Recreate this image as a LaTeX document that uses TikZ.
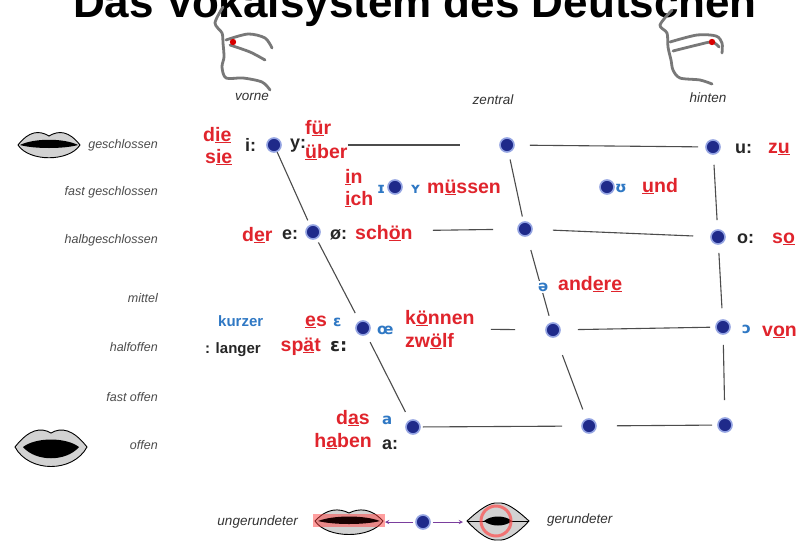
\documentclass[tikz,border=0pt]{standalone}
\usepackage{fontspec}
\setmainfont{Liberation Sans}
\newfontfamily\ipafont{DejaVu Sans}
\definecolor{cDot}{HTML}{1F2A8A}
\definecolor{cHalo}{HTML}{93A3E2}
\definecolor{cWord}{HTML}{E0242C}
\definecolor{cIpa}{HTML}{2F78C4}
\definecolor{cLine}{gray}{0.3}
\definecolor{cSide}{gray}{0.3}
\definecolor{cHead}{gray}{0.47}
\definecolor{cArrow}{HTML}{7A3E9D}
\tikzset{>=stealth}
\tikzset{
	vdot/.style={circle, fill=cDot, draw=cHalo, line width=1.6pt, minimum size=14pt, inner sep=0pt},
	word/.style={text=cWord, font=\bfseries\fontsize{19.5}{20}\selectfont, inner sep=0pt, anchor=base west},
	sound/.style={text=black!85, font=\bfseries\fontsize{18}{20}\selectfont, inner sep=0pt, anchor=base west},
	ipa/.style={text=cIpa, font=\ipafont\bfseries\fontsize{15}{18}\selectfont, inner sep=0pt, anchor=base west},
	side/.style={text=cSide, font=\itshape\fontsize{12.5}{14}\selectfont, inner sep=0pt, anchor=east},
	place/.style={text=black!80, font=\itshape\fontsize{13.5}{15}\selectfont, inner sep=0pt},
	gline/.style={draw=cLine, line width=1.1pt},
	head/.style={draw=cHead, line width=2.8pt, line cap=round, line join=round},
	lips/.style={draw=black, fill=gray!35, line width=0.9pt},
}

\begin{document}
\begin{tikzpicture}[x=1pt, y=-1pt]
		\clip (0,0) rectangle (808,544);
		\fill[white] (0,0) rectangle (808,544);
		
		%title
		\node[font=\bfseries\fontsize{44}{48}\selectfont, anchor=base] (title) at (415,17) {Das Vokalsystem des Deutschen};
		
		%head front
		\draw[head] plot[smooth] coordinates {(223,7) (215,23) (222,33) (223,43) (224,57) (222,67) (226,78) (243,78) (262,82) (270,90)};
		\draw[head] plot[smooth] coordinates {(226,40) (248,34) (265,38) (272,48)};
		\draw[head] plot[smooth] coordinates {(230,45) (250,52) (265,60)};
		\fill[red!85!black] (233,42) circle (3.2pt);
		%head back
		\draw[head] plot[smooth] coordinates {(672,10) (660,25) (667,33) (668,47) (671,60) (673,70) (680,78) (700,80) (712,84)};
		\draw[head] plot[smooth] coordinates {(670,42) (697,35) (716,36) (722,43) (722,53)};
		\draw[head] plot[smooth] coordinates {(673,51) (697,45) (712,42) (719,47)};
		\fill[red!85!black] (712,42) circle (3.2pt);
		
		\node[place] (vorne) at (252,97) {vorne};
		\node[place] (zentral) at (493,100) {zentral};
		\node[place] (hinten) at (708,98) {hinten};
		
		%mouth opening
		\foreach \y/\t in {145/geschlossen, 192/fast geschlossen, 240/halbgeschlossen, 298/mittel, 347/halfoffen, 397/fast offen, 445/offen}
		{
			\node[side] at (158,\y) {\t};
		}
		%closed lips
		\begin{scope}[shift={(49,145)}]
			\draw[lips] (-31,0) .. controls (-20,-14) and (-10,-15) .. (0,-9) .. controls (10,-15) and (20,-14) .. (31,0) .. controls (20,17) and (-20,17) .. (-31,0) -- cycle;
			\fill[black] (-29,0) .. controls (-15,-7) and (15,-7) .. (29,0) .. controls (15,4) and (-15,4) .. (-29,0);
		\end{scope}
		%open lips
		\begin{scope}[shift={(51,447)}]
			\draw[lips] (-36,0) .. controls (-22,-18) and (-10,-20) .. (0,-14) .. controls (10,-20) and (22,-18) .. (36,0) .. controls (22,26) and (-22,26) .. (-36,0) -- cycle;
			\fill[black] (-28,0) .. controls (-15,-10) and (15,-10) .. (28,0) .. controls (15,15) and (-15,15) .. (-28,0);
		\end{scope}
		
		%vowels
		\node[vdot] (iDot) at (274,145) {};
		\node[vdot] (cTop) at (507,145) {};
		\node[vdot] (uDot) at (713,147) {};
		\node[vdot] (IDot) at (395,187) {};
		\node[vdot] (UDot) at (607,187) {};
		\node[vdot] (eDot) at (313,232) {};
		\node[vdot] (cMid) at (525,229) {};
		\node[vdot] (oDot) at (718,237) {};
		\node[vdot] (oeDot) at (363,328) {};
		\node[vdot] (cLow) at (553,330) {};
		\node[vdot] (OpenO) at (723,327) {};
		\node[vdot] (aDot) at (413,427) {};
		\node[vdot] (cBot) at (589,426) {};
		\node[vdot] (rBot) at (725,425) {};
		
		%front
		\draw[gline, shorten >=5pt] (iDot) -- (eDot);
		\draw[gline, shorten <=4pt, shorten >=9pt] (eDot) -- (oeDot);
		\draw[gline, shorten <=8pt, shorten >=9pt] (oeDot) -- (aDot);
		%central
		\draw[gline, shorten <=7pt, shorten >=5pt] (cTop) -- (cMid);
		\draw[gline, shorten <=14pt, shorten >=7pt] (cMid) -- (cLow);
		\draw[gline, shorten <=19pt, shorten >=10pt] (cLow) -- (cBot);
		%back
		\draw[gline, shorten <=10pt, shorten >=9pt] (uDot) -- (oDot);
		\draw[gline, shorten <=8pt, shorten >=11pt] (oDot) -- (OpenO);
		\draw[gline, shorten <=10pt, shorten >=17pt] (OpenO) -- (rBot);
		%rows
		\draw[gline, shorten <=66pt, shorten >=39pt] (iDot) -- (cTop);
		\draw[gline, shorten <=15pt, shorten >=7pt] (cTop) -- (uDot);
		\draw[gline, shorten <=112pt, shorten >=24pt] (eDot) -- (cMid);
		\draw[gline, shorten <=20pt, shorten >=17pt] (cMid) -- (oDot);
		\draw[gline, shorten <=120pt, shorten >=30pt] (oeDot) -- (cLow);
		\draw[gline, shorten <=17pt, shorten >=5pt] (cLow) -- (OpenO);
		\draw[gline, shorten <=2pt, shorten >=19pt] (aDot) -- (cBot);
		\draw[gline, shorten <=20pt, shorten >=5pt] (cBot) -- (rBot);
		
		%close
		\node[word] (die) at (203,141) {d\underline{ie}};
		\node[word] (sie) at (205,163) {s\underline{ie}};
		\node[sound] (ii) at (245,151) {i:};
		\node[sound] (yy) at (290,148) {y:};
		\node[word] (fuer) at (305,134) {f\underline{ü}r};
		\node[word] (ueber) at (305,158) {\underline{ü}ber};
		\node[sound] (uu) at (735,153) {u:};
		\node[word] (zu) at (768,153) {z\underline{u}};
		%near close
		\node[word] (in) at (345,183) {\underline{i}n};
		\node[word] (ich) at (345,205) {\underline{i}ch};
		\node[ipa] (I) at (377,193) {ɪ};
		\node[ipa] (Y) at (410,193) {ʏ};
		\node[word] (muessen) at (427,193) {m\underline{ü}ssen};
		\node[ipa] (U) at (615,192) {ʊ};
		\node[word] (und) at (642,192) {\underline{u}nd};
		%close-mid
		\node[word] (der) at (242,241) {d\underline{e}r};
		\node[sound] (ee) at (282,239) {e:};
		\node[sound] (oe) at (330,239) {ø:};
		\node[word] (schoen) at (355,239) {sch\underline{ö}n};
		\node[sound] (oo) at (737,243) {o:};
		\node[word] (so) at (772,243) {s\underline{o}};
		%mid
		\node[ipa, fill=white, inner sep=2pt] (schwa) at (536,291) {ə};
		\node[word] (andere) at (558,290) {and\underline{e}r\underline{e}};
		\node[text=cIpa, font=\bfseries\fontsize{15}{18}\selectfont, inner sep=0pt, anchor=base west] (kurz) at (218,326) {kurzer};
		\node[text=black!85, font=\bfseries\fontsize{15}{18}\selectfont, inner sep=0pt, anchor=base west] (lang) at (205,353) {: langer};
		%open-mid
		\node[word] (es) at (305,326) {\underline{e}s};
		\node[ipa] (E) at (333,326) {ɛ};
		\node[word, anchor=base east] (spaet) at (321,351) {sp\underline{ä}t};
		\node[sound] (EE) at (330,351) {\ipafont ɛ:};
		\node[ipa] (OE) at (377,334) {œ};
		\node[word] (koennen) at (405,324) {k\underline{ö}nnen};
		\node[word] (zwoelf) at (405,347) {zw\underline{ö}lf};
		\node[ipa] (O) at (742,333) {ɔ};
		\node[word] (von) at (762,336) {v\underline{o}n};
		%open
		\node[word, anchor=base east] (das) at (370,424) {d\underline{a}s};
		\node[ipa] (a) at (382,424) {a};
		\node[word, anchor=base east] (haben) at (372,447) {h\underline{a}ben};
		\node[sound] (aa) at (382,449) {a:};
		
		%rounding
		\node[place, anchor=east] (unrund) at (298,522) {ungerundeter};
		\node[place, anchor=west] (rund) at (547,520) {gerundeter};
		\begin{scope}[shift={(349,521)}]
			\draw[lips] (-34,0) .. controls (-22,-13) and (-10,-13) .. (0,-8) .. controls (10,-13) and (22,-13) .. (34,0) .. controls (22,18) and (-22,18) .. (-34,0) -- cycle;
			\fill[red!75, opacity=0.5] (-36,-7) rectangle (36,6);
			\fill[black!90!red] (-31,0) .. controls (-15,-6) and (15,-6) .. (31,0) .. controls (15,4) and (-15,4) .. (-31,0);
		\end{scope}
		\begin{scope}[shift={(498,521)}]
			\draw[lips] (-31,0) .. controls (-18,-12) and (-8,-19) .. (0,-18) .. controls (8,-19) and (18,-12) .. (31,0) .. controls (18,14) and (8,20) .. (0,19) .. controls (-8,20) and (-18,14) .. (-31,0) -- cycle;
			\draw[line width=0.9pt] (-31,0) -- (31,0);
			\fill[black] (-14,0) .. controls (-7,-6) and (7,-6) .. (14,0) .. controls (7,6) and (-7,6) .. (-14,0);
			\draw[red!70, opacity=0.7, line width=3pt] (-2,0) circle (15pt);
		\end{scope}
		\node[vdot] (rDot) at (423,522) {};
		\coordinate (lipsL) at (385,522);
		\coordinate (lipsR) at (463,522);
		\draw[->, cArrow, line width=0.9pt, shorten <=2pt] (rDot) -- (lipsL);
		\draw[->, cArrow, line width=0.9pt, shorten <=2pt] (rDot) -- (lipsR);
		
\end{tikzpicture}
\end{document}
